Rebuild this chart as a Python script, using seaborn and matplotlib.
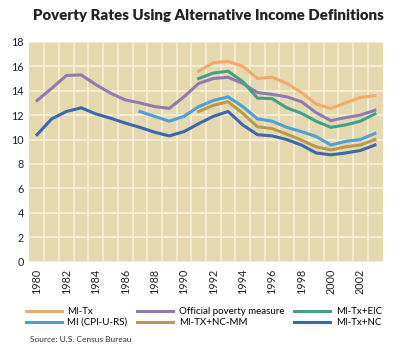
import numpy as np
import pandas as pd
import seaborn as sns
import matplotlib.pyplot as plt
from matplotlib.ticker import MultipleLocator

# years and series (NaN where a series has no data)
years = list(range(1980, 2004))
nan = np.nan

mi_tx = [nan] * 11 + [15.6, 16.3, 16.4, 16.0, 15.0, 15.1, 14.6, 13.85, 12.9, 12.55, 13.0, 13.45, 13.6]
official = [13.2, 14.2, 15.25, 15.3, 14.5, 13.8, 13.25, 13.0, 12.7, 12.55, 13.5, 14.6,
            15.0, 15.1, 14.6, 13.85, 13.7, 13.5, 13.1, 12.2, 11.55, 11.8, 12.0, 12.4]
mi_tx_eic = [nan] * 11 + [15.0, 15.45, 15.6, 14.75, 13.4, 13.35, 12.6, 12.15, 11.5, 11.0, 11.2, 11.5, 12.1]
mi_cpi = [nan] * 7 + [12.3, 11.9, 11.5, 11.9, 12.7, 13.2, 13.5, 12.7, 11.7, 11.5, 11.0, 10.65,
                      10.25, 9.55, 9.85, 10.0, 10.5]
mi_nc_mm = [nan] * 11 + [12.3, 12.8, 13.1, 12.15, 11.05, 10.9, 10.45, 9.95, 9.4, 9.15, 9.4, 9.55, 10.0]
mi_tx_nc = [10.4, 11.7, 12.3, 12.6, 12.1, 11.75, 11.35, 11.0, 10.6, 10.3, 10.65, 11.3,
            11.9, 12.3, 11.2, 10.4, 10.3, 10.0, 9.55, 8.9, 8.75, 8.9, 9.1, 9.55]

# legend order (ncol=3 fills column by column)
labels = ["MI-Tx", "MI (CPI-U-RS)", "Official poverty measure", "MI-TX+NC-MM", "MI-Tx+EIC", "MI-Tx+NC"]
values = [mi_tx, mi_cpi, official, mi_nc_mm, mi_tx_eic, mi_tx_nc]
colors = ["#f2aa6c", "#4c9fd8", "#8f7bb2", "#b99a4b", "#41a089", "#3b66b0"]

df = pd.DataFrame({"year": years})
for lab, vals in zip(labels, values):
    df[lab] = vals
long = df.melt(id_vars="year", var_name="series", value_name="rate").dropna()

plt.rcParams["font.family"] = ["Lato", "DejaVu Sans"]

fig = plt.figure(figsize=(4.0, 3.55), dpi=100)
ax = fig.add_axes([0.0725, 0.263, 0.885, 0.619])
ax.set_facecolor("#e6d8ae")

sns.lineplot(data=long, x="year", y="rate", hue="series", hue_order=labels,
             palette=dict(zip(labels, colors)), linewidth=2.2, ax=ax, legend=False)

ax.set_xlim(1979.45, 2003.55)
ax.set_ylim(0, 18)
ax.xaxis.set_major_locator(MultipleLocator(2))
ax.set_xticks(np.arange(1980.5, 2003, 1), minor=True)
ax.yaxis.set_major_locator(MultipleLocator(2))
ax.grid(False)
ax.grid(True, axis="x", which="minor", color="#f6f0dc", linewidth=1.1)
ax.grid(True, axis="y", which="major", color="#f6f0dc", linewidth=1.1)
ax.set_axisbelow(True)
ax.tick_params(which="both", length=0, labelsize=7.8, colors="#222222")
ax.tick_params(axis="x", rotation=90, pad=5)
ax.set_xlabel("")
ax.set_ylabel("")
for s in ax.spines.values():
    s.set_visible(False)

fig.text(0.52, 0.955, "Poverty Rates Using Alternative Income Definitions",
         ha="center", va="center", fontsize=10.8, fontweight="heavy", color="#222222")

handles = [plt.Line2D([], [], color=c, linewidth=2.2) for c in colors]
fig.legend(handles, labels, ncol=3, loc="center", bbox_to_anchor=(0.51, 0.107),
           frameon=False, fontsize=7, handlelength=3.7, columnspacing=1.0,
           labelspacing=0.2, handletextpad=0.6)

fig.text(0.075, 0.037, "Source: U.S. Census Bureau", fontsize=6, color="#333333")

fig.savefig("out.png", dpi=100)
